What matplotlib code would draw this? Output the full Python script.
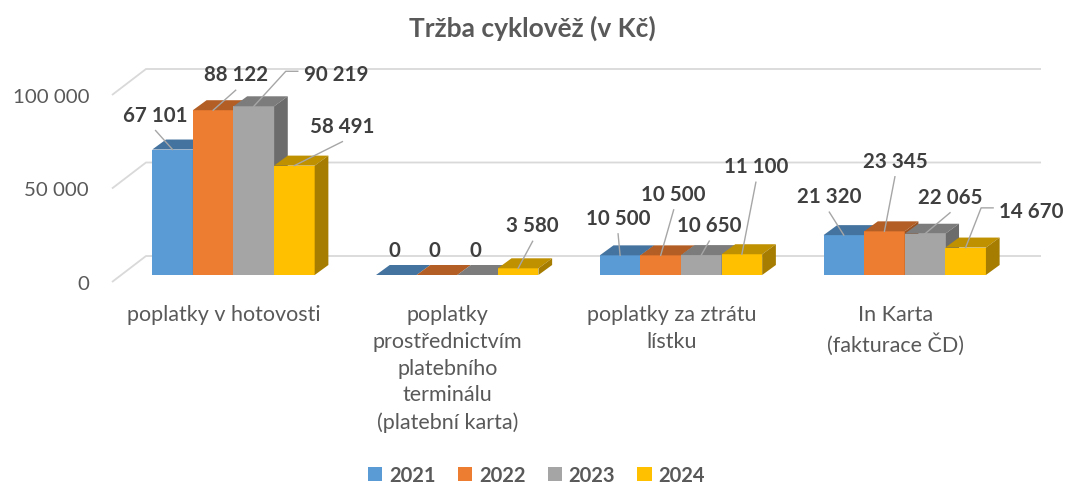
import matplotlib
matplotlib.use("Agg")
import matplotlib.pyplot as plt
from matplotlib.patches import Polygon, Patch

# ---- data -------------------------------------------------------------
categories = [
    "poplatky v hotovosti",
    "poplatky\nprostřednictvím\nplatebního\nterminálu\n(platební karta)",
    "poplatky za ztrátu\nlístku",
    "In Karta\n(fakturace ČD)",
]
years = ["2021", "2022", "2023", "2024"]
rev_2021 = [67101, 0, 10500, 21320]
rev_2022 = [88122, 0, 10500, 23345]
rev_2023 = [90219, 0, 10650, 22065]
rev_2024 = [58491, 3580, 11100, 14670]
y_ticks = [0, 50000, 100000]
y_tick_labels = ["0", "50 000", "100 000"]

series = [rev_2021, rev_2022, rev_2023, rev_2024]

# ---- style ------------------------------------------------------------
front_colors = ["#5B9BD5", "#ED7D31", "#A5A5A5", "#FFC000"]
top_colors = ["#44739F", "#B35E24", "#7C7C7C", "#BF9000"]
side_colors = ["#3B6590", "#9C5220", "#6C6C6C", "#A67D00"]
grid_color = "#D9D9D9"
leader_color = "#A6A6A6"
label_color = "#3F3F3F"
text_color = "#595959"
FONT = ["Lato", "DejaVu Sans"]

# data-label placement relative to the top of each bar, in pixels (x right, y up)
label_dx = [[-17, 22.5, 82, 48], [-2, -2, -2, 14.5], [-2, 13, 8, 14], [-14.5, 10.5, 25, 65.5]]
label_dy = [[29, 30, 26, 34], [19, 19, 19, 37], [31.5, 55.5, 24, 82], [33, 64.6, 31, 30.7]]
leader_kind = [["below", "below", "elbow", "below"],
               ["none", "none", "none", "below"],
               ["below", "below", "below", "below"],
               ["below", "below", "below", "elbow"]]

W, H = 1067, 485
fig = plt.figure(figsize=(W / 100, H / 100), dpi=100)
ax = fig.add_axes([112 / W, (H - 283) / H, 895 / W, 187 / H])
ax.set_xlim(-0.5, 3.5)
ax.set_ylim(0, 100000)
for s in ax.spines.values():
    s.set_visible(False)
ax.patch.set_alpha(0)


def px(dx, dy):
    """Convert a screen offset in pixels into data-space deltas."""
    inv = ax.transData.inverted()
    x0, y0 = inv.transform((0, 0))
    x1, y1 = inv.transform((dx, dy))
    return x1 - x0, y1 - y0


# oblique depth offsets: bar front plane, bar depth, back wall
Fx, Fy = px(9.6, 7)
Dx, Dy = px(13.7, 10)
Wx, Wy = px(34, 26)

# back wall gridlines with the floor/side diagonals
x_lo, x_hi = ax.get_xlim()
for v in y_ticks:
    ax.plot([x_lo, x_lo + Wx, x_hi + Wx], [v, v + Wy, v + Wy],
            color=grid_color, lw=1.3, zorder=0, clip_on=False,
            solid_capstyle="butt")

# bars (front face via bar(), top and side faces as polygons)
bw = px(40.6, 0)[0]
n = len(series)
for j, vals in enumerate(series):
    z = 2 + 2 * j
    xs = [i + (j - (n - 1) / 2) * bw + Fx for i in range(len(categories))]
    ax.bar(xs, vals, width=bw, bottom=Fy, color=front_colors[j],
           zorder=z, clip_on=False, linewidth=0)
    for xc, v in zip(xs, vals):
        x0, x1 = xc - bw / 2, xc + bw / 2
        top = Fy + v
        ax.add_patch(Polygon([(x0, top), (x1, top), (x1 + Dx, top + Dy), (x0 + Dx, top + Dy)],
                             closed=True, facecolor=top_colors[j], lw=0,
                             zorder=z + 1, clip_on=False))
        ax.add_patch(Polygon([(x1, Fy), (x1 + Dx, Fy + Dy), (x1 + Dx, top + Dy), (x1, top)],
                             closed=True, facecolor=side_colors[j], lw=0,
                             zorder=z + 1, clip_on=False))

# data labels with leader lines
for j, vals in enumerate(series):
    for i, v in enumerate(vals):
        xc = i + (j - (n - 1) / 2) * bw + Fx
        top = Fy + v
        ox, oy = px(label_dx[i][j], label_dy[i][j])
        tx, ty = xc + ox, top + oy
        ax.text(tx, ty, f"{v:,}".replace(",", " "), ha="center", va="baseline",
                fontsize=14.8, fontweight="bold", color=label_color,
                family=FONT, zorder=20, clip_on=False)
        kind = leader_kind[i][j]
        if kind == "below":
            sx, sy = px(0, -10)
            ax.plot([tx + sx, xc], [ty + sy, top], color=leader_color, lw=1,
                    zorder=19, clip_on=False)
        elif kind == "elbow":
            ax_, ay_ = px(-38, 9)
            bx_, _ = px(-50, 0)
            ax.plot([tx + ax_, tx + bx_, xc], [ty + ay_, ty + ay_, top],
                    color=leader_color, lw=1, zorder=19, clip_on=False)

# axes ticks and labels
ax.set_yticks(y_ticks, y_tick_labels)
ax.set_xticks(range(len(categories)), categories)
ax.tick_params(axis="both", length=0, colors=text_color)
ax.tick_params(axis="y", pad=16.5)
ax.tick_params(axis="x", pad=16)
for lbl in ax.get_yticklabels():
    lbl.set_fontfamily(FONT)
    lbl.set_fontsize(14.7)
for lbl in ax.get_xticklabels():
    lbl.set_fontfamily(FONT)
    lbl.set_fontsize(15.5)
    lbl.set_linespacing(1.42)

# title
fig.text(532 / W, 1 - 37 / H, "Tržba cyklověž (v Kč)", ha="center", va="baseline",
         fontsize=19, fontweight="bold", color=text_color, family=FONT)

# legend
handles = [Patch(facecolor=c, edgecolor="none") for c in front_colors]
leg = fig.legend(handles, years, loc="center", bbox_to_anchor=(536.5 / W, 1 - 476 / H),
                 ncol=4, frameon=False, handlelength=0.7, handleheight=0.7,
                 handletextpad=0.35, columnspacing=1.1,
                 prop={"family": FONT, "weight": "bold", "size": 14.5})
for t in leg.get_texts():
    t.set_color(text_color)

fig.savefig("out.png", dpi=100)
